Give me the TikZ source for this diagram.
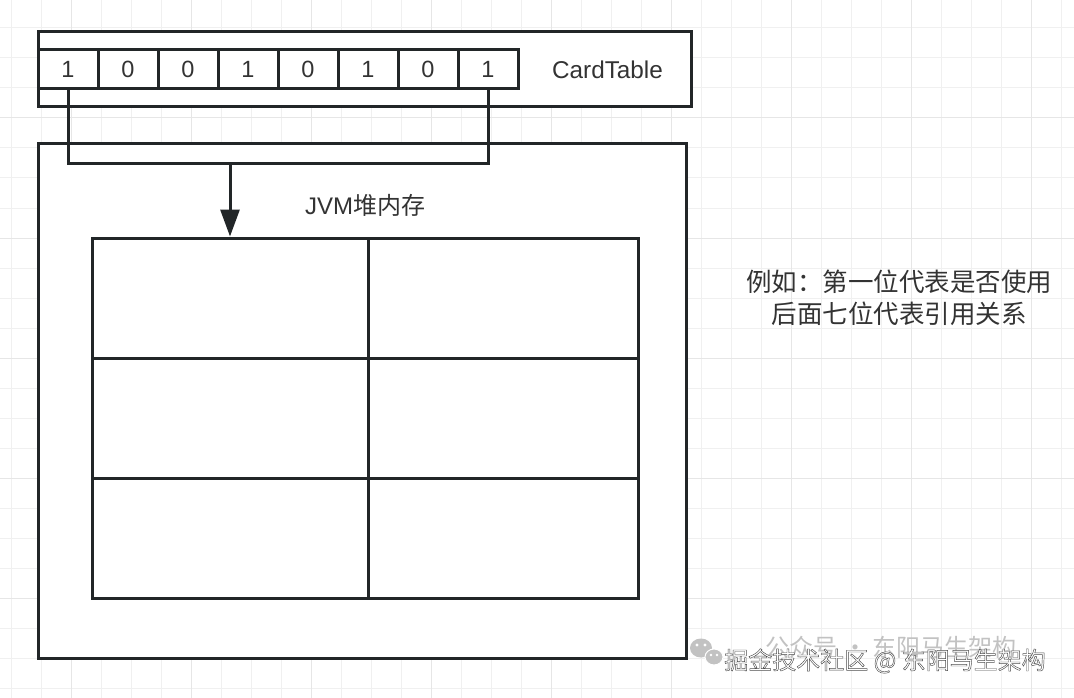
\documentclass[tikz,border=0pt]{standalone}
\usepackage{fontspec}
\setmainfont{Liberation Sans}
\newfontfamily\cjk{Noto Sans CJK SC}
\usetikzlibrary{arrows.meta}
\definecolor{linec}{HTML}{222628}
\definecolor{gridminor}{HTML}{F0F0F0}
\definecolor{gridmajor}{HTML}{E6E6E6}
\definecolor{txt}{HTML}{333333}
\definecolor{wmback}{HTML}{C2C2C2}
\newcommand{\outlined}[1]{\special{pdf:literal direct 0.3 G 2 Tr 0.45 w}#1\special{pdf:literal direct 0 Tr}}
\begin{document}
\begin{tikzpicture}[x=1pt,y=-1pt,
  box/.style={draw=linec, line width=3pt, fill=white, inner sep=0pt},
  cell/.style={box, minimum width=60pt, minimum height=39pt, font=\fontsize{23.5}{28}\selectfont, text=txt},
  gcell/.style={box, minimum height=120pt},
  lbl/.style={inner sep=0pt, text=txt},
  conn/.style={draw=linec, line width=3pt},
  wmtext/.style={inner sep=0pt, font=\cjk\fontsize{24}{28}\selectfont}]
\useasboundingbox (0,0) rectangle (1074,698);
\fill[white] (0,0) rectangle (1074,698);
% grid
\foreach \x in {11,41,...,1071} \draw[gridminor, line width=1pt] (\x,0) -- (\x,698);
\foreach \y in {28,58,...,690} \draw[gridminor, line width=1pt] (0,\y) -- (1074,\y);
\foreach \x in {71,191,...,1071} \draw[gridmajor, line width=1pt] (\x,0) -- (\x,698);
\foreach \y in {118,238,...,690} \draw[gridmajor, line width=1pt] (0,\y) -- (1074,\y);
% CardTable
\node[box, minimum width=653pt, minimum height=75pt] (ct) at (364.5,69.5) {};
\foreach \i/\v in {1/1,2/0,3/0,4/1,5/0,6/1,7/0,8/1}
  \node[cell] (c\i) at ({8+60*\i},69.5) {\v};
\node[lbl, font=\fontsize{24.3}{28}\selectfont] (ctl) at (607.5,70) {CardTable};
% heap
\node[box, minimum width=648pt, minimum height=514pt] (heap) at (362,401) {};
\node[lbl, font=\fontsize{24}{28}\selectfont] (heapl) at (365,205) {JVM{\cjk 堆内存}};
\foreach \r/\y in {1/298,2/418,3/538} {
  \node[gcell, minimum width=276pt] (g\r1) at (230,\y) {};
  \node[gcell, minimum width=270pt] (g\r2) at (503,\y) {};
}
% connectors
\coordinate (brk) at (230,164);
\draw[conn] (c1.south) |- (brk) -| (c8.south);
\draw[conn, -{Triangle[length=27pt,width=19pt]}] (brk) -- (g11.north);
% note
\node[lbl, align=center, font=\cjk\fontsize{25.5}{32}\selectfont] (note) at (899,297.5)
  {例如：第一位代表是否使用\\后面七位代表引用关系};
% watermark
\fill[wmback] (701,648) ellipse (11pt and 9.5pt);
\fill[white] (697,645) circle (1.6pt) (705,645) circle (1.6pt);
\fill[wmback, draw=white, line width=1pt] (714,657) ellipse (9pt and 8pt);
\fill[white] (711,655) circle (1.3pt) (717,655) circle (1.3pt);
\node[wmtext, text=wmback] (wmb) at (891,647) {公众号 · 东阳马生架构};
\node[wmtext, text=white] (wmf) at (885,661) {\outlined{掘金技术社区 @ 东阳马生架构}};
\end{tikzpicture}
\end{document}
